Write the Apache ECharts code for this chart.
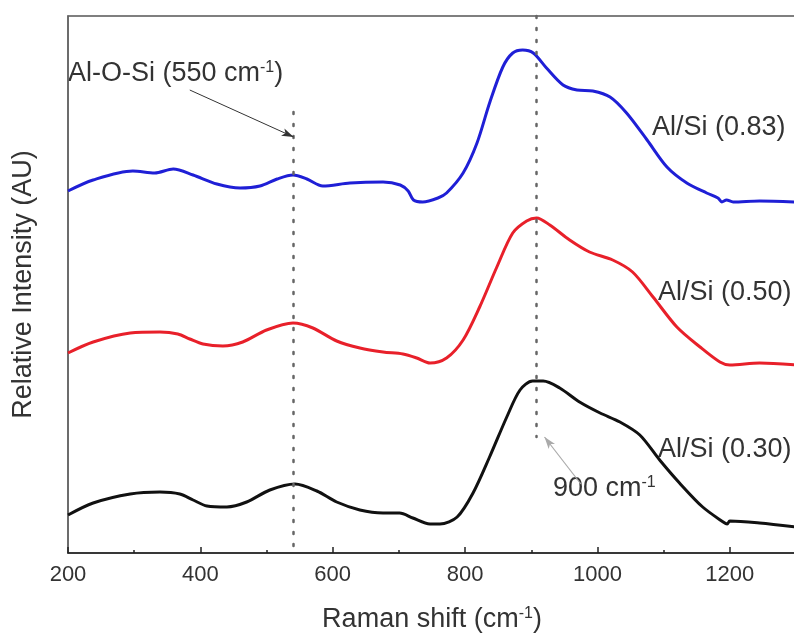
<!DOCTYPE html>
<html>
<head>
<meta charset="utf-8">
<script src="https://cdn.jsdelivr.net/npm/echarts@6/dist/echarts.min.js"></script>
<style>
  html, body { margin: 0; padding: 0; background: #fff; }
  #main { width: 794px; height: 633px; }
</style>
</head>
<body>
<div id="main"></div>
<script>
// Raman spectra, [shift cm-1, relative intensity (offset stacked)]
var al083 = [[200,362],[238,373],[298,382],[331,380],[359,384],[389,378],[425,369],[460,365],[490,367],
    [516,374],[540,378],[561,374],[585,367],[626,370],[676,371],[702,368],[714,362],[722,353],[736,351],
    [759,355],[772,360],[797,380],[818,410],[837,450],[857,486],[872,500],[887,503],[903,500],[923,485],
    [948,468],[969,463],[993,462],[1019,456],[1044,440],[1075,413],[1105,386],[1135,370],[1165,360],
    [1182,355],[1188,351],[1195,353],[1205,351],[1245,352],[1300,351]];
var al050 = [[200,200],[238,211],[294,220],[339,221],[366,219],[384,214],[404,209],[434,207],[464,211],
    [500,223],[540,230],[570,225],[606,212],[641,205],[676,201],[706,199],[727,195],[747,190],[772,195],
    [797,213],[822,246],[848,286],[872,320],[893,332],[908,335],[928,328],[958,313],[988,301],[1023,293],
    [1053,281],[1084,256],[1120,226],[1155,206],[1185,191],[1200,188],[1245,190],[1300,188]];
var al030 = [[200,38],[238,50],[294,59],[339,61],[369,59],[389,53],[410,47],[440,46],[470,51],[505,63],
    [543,69],[576,62],[606,51],[641,43],[676,40],[701,40],[721,35],[747,29],[762,29],[788,36],[812,60],
    [837,96],[863,136],[883,163],[902,172],[918,172],[943,165],[973,151],[1004,140],[1034,131],[1064,118],
    [1094,93],[1124,70],[1159,46],[1190,31],[1196,29],[1200,32],[1245,30],[1300,26]];
var seriesNames = ['Al/Si (0.83)', 'Al/Si (0.50)', 'Al/Si (0.30)'];

// annotation anchors in data units
var peakLines = [[[541, 441], [541, 6]], [[908, 537], [908, 116]]];
var arrows = [[[384, 463], [541, 416]], [[975, 69], [920, 116]]];

var font = 'Liberation Sans, Arial, sans-serif';
var supRich = {
    sup: { fontSize: 16, fontFamily: font, color: '#333', padding: [0, 0, 12, 0] }
};

var myChart = echarts.init(document.getElementById('main'));

function lineSeries(name, data, color) {
    return {
        name: name,
        type: 'line',
        data: data,
        smooth: 0.3,
        showSymbol: false,
        lineStyle: { color: color, width: 3 },
        z: 3
    };
}

var option = {
    animation: false,
    grid: {
        left: 68, top: 16, width: 728, bottom: 80,
        outerBoundsMode: 'none',
        containLabel: false,
        show: true, borderColor: '#555', borderWidth: 1.5
    },
    xAxis: {
        type: 'value',
        min: 200, max: 1300, interval: 200,
        name: 'Raman shift (cm{sup|-1})',
        nameLocation: 'middle',
        nameGap: 53,
        nameTextStyle: { fontSize: 27, fontFamily: font, color: '#333', rich: supRich },
        axisLine: { lineStyle: { color: '#222', width: 1.5 } },
        axisTick: { inside: true, length: 6, lineStyle: { color: '#222', width: 1.5 } },
        minorTick: { show: true, splitNumber: 2, length: 3, lineStyle: { color: '#222', width: 1.5 } },
        axisLabel: {
            fontSize: 22, fontFamily: font, color: '#333', margin: 11, showMaxLabel: false,
            formatter: function (v) { return String(v); }
        },
        splitLine: { show: false }
    },
    yAxis: {
        type: 'value',
        min: 0, max: 537,
        name: 'Relative Intensity (AU)',
        nameLocation: 'middle',
        nameGap: 31,
        nameTextStyle: { fontSize: 27, fontFamily: font, color: '#333' },
        axisLine: { show: true, lineStyle: { color: '#666', width: 1.5 } },
        axisTick: { show: false },
        axisLabel: { show: false },
        splitLine: { show: false }
    },
    series: [
        lineSeries(seriesNames[0], al083, '#1f1fd6'),
        lineSeries(seriesNames[1], al050, '#e8202a'),
        lineSeries(seriesNames[2], al030, '#111111'),
        {
            type: 'line',
            data: [],
            markLine: {
                silent: true,
                animation: false,
                label: { show: false },
                data: peakLines.map(function (p) {
                    return [
                        { coord: p[0], symbol: 'none', lineStyle: { color: '#666', width: 2.5, type: [2, 10], cap: 'round' } },
                        { coord: p[1], symbol: 'none' }
                    ];
                }).concat([
                    [
                        { coord: arrows[0][0], symbol: 'none', lineStyle: { color: '#333', width: 1, type: 'solid' } },
                        { coord: arrows[0][1], symbol: 'arrow', symbolSize: [6, 12] }
                    ],
                    [
                        { coord: arrows[1][0], symbol: 'none', lineStyle: { color: '#aaa', width: 1.2, type: 'solid' } },
                        { coord: arrows[1][1], symbol: 'arrow', symbolSize: [6, 12], itemStyle: { color: '#333' } }
                    ]
                ])
            }
        }
    ],
    graphic: [
        { type: 'text', left: 68, top: 60, style: { text: 'Al-O-Si (550 cm{sup|-1})', fontSize: 27, fontFamily: font, fill: '#333', rich: supRich } },
        { type: 'text', left: 652, top: 114, style: { text: seriesNames[0], fontSize: 27, fontFamily: font, fill: '#333' } },
        { type: 'text', left: 658, top: 279, style: { text: seriesNames[1], fontSize: 27, fontFamily: font, fill: '#333' } },
        { type: 'text', left: 658, top: 436, style: { text: seriesNames[2], fontSize: 27, fontFamily: font, fill: '#333' } },
        { type: 'text', left: 553, top: 475, style: { text: '900 cm{sup|-1}', fontSize: 27, fontFamily: font, fill: '#333', rich: supRich } }
    ]
};
myChart.setOption(option);
</script>
</body>
</html>
